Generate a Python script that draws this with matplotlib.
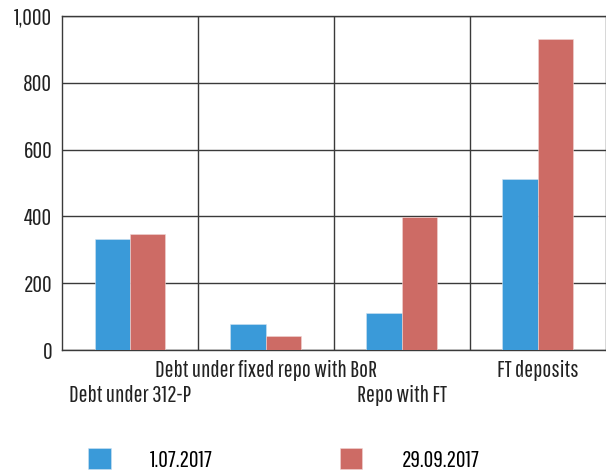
import matplotlib
matplotlib.use('Agg')
import numpy as np
import matplotlib.pyplot as plt
from matplotlib.patches import Patch

categories = ['Debt under 312-P', 'Debt under fixed repo with BoR', 'Repo with FT', 'FT deposits']
series_names = ['1.07.2017', '29.09.2017']
jul_values = [331, 79, 111, 513]
sep_values = [348, 41, 399, 932]
yticks = [0, 200, 400, 600, 800, 1000]

blue = '#3A9AD9'
red = '#CD6B65'
grid_col = '#3a3a3a'
fs = 17

plt.rcParams['font.family'] = ['Pathway Gothic One', 'Roboto Condensed', 'DejaVu Sans']

fig = plt.figure(figsize=(6.06, 4.73), dpi=100)
ax = fig.add_axes([62/606, 1 - 350/473, 543.5/606, 334/473])

x = np.arange(len(categories))
w = 0.26
ax.bar(x - w/2, jul_values, w, color=blue, edgecolor='#cfe3f2', linewidth=0.4, zorder=3)
ax.bar(x + w/2, sep_values, w, color=red, edgecolor='#f0d6d4', linewidth=0.4, zorder=3)

ax.set_xlim(-0.5, len(categories) - 0.5)
ax.set_ylim(0, 1000)
ax.set_yticks(yticks)
ax.set_yticklabels(['{:,}'.format(v) for v in yticks], fontsize=fs)

# staggered category labels: odd ones on major ticks (upper row), even ones on minor ticks (lower row)
ax.set_xticks(x[1::2])
ax.set_xticklabels(categories[1::2], fontsize=fs)
ax.set_xticks(x[0::2], minor=True)
ax.set_xticklabels(categories[0::2], minor=True, fontsize=fs)
ax.tick_params(axis='both', which='both', length=0, colors='#222222')
ax.tick_params(axis='x', which='major', pad=7)
ax.tick_params(axis='x', which='minor', pad=25)
ax.tick_params(axis='y', pad=7)

for b in np.arange(0.5, len(categories) - 0.5, 1):
    ax.axvline(b, color=grid_col, lw=1, zorder=1)
ax.yaxis.grid(True, color=grid_col, lw=1, zorder=1)
ax.set_axisbelow(True)
for s in ax.spines.values():
    s.set_color(grid_col)
    s.set_linewidth(1)

handles = [Patch(facecolor=blue, edgecolor='#cfe3f2', lw=0.4),
           Patch(facecolor=red, edgecolor='#f0d6d4', lw=0.4)]
fig.legend(handles, series_names, loc='lower left', bbox_to_anchor=(67/606, -0.04),
           ncol=2, frameon=False, fontsize=fs, handlelength=0.95, handleheight=0.95,
           handletextpad=1.65, columnspacing=5.4)

fig.savefig('out.png', dpi=100)
